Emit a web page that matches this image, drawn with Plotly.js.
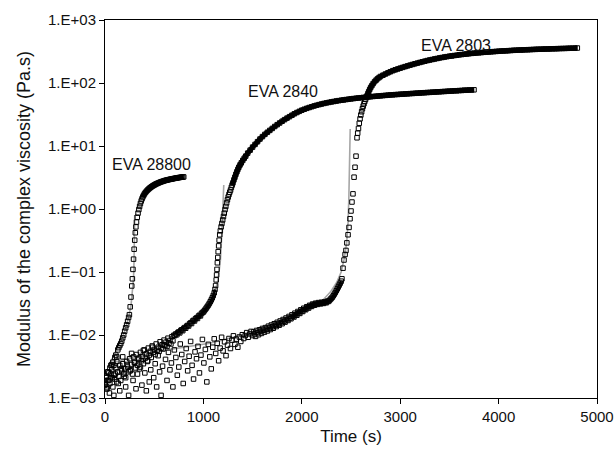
<!DOCTYPE html>
<html>
<head>
<meta charset="utf-8">
<script src="https://cdn.plot.ly/plotly-3.0.1.min.js"></script>
<style>html,body{margin:0;padding:0;background:#fff}#chart{width:616px;height:455px}</style>
</head>
<body>
<div id="chart"></div>
<script>
// ---- data: [time (s), |eta*| (Pa.s)] ----
const seriesNames = ['EVA 28800', 'EVA 2840', 'EVA 2803'];

const eva28800 = [
[0,0.0017],[10,0.0021],[20,0.0015],[30,0.0026],[40,0.0019],[50,0.0030],[60,0.0024],[70,0.0034],[80,0.0037],[90,0.0033],
[100,0.0044],[110,0.0048],[120,0.0045],[130,0.0058],[140,0.0063],[150,0.0068],[160,0.0073],[170,0.0080],[180,0.0090],[190,0.0100],
[200,0.0115],[210,0.0130],[220,0.0145],[230,0.0165],[240,0.0190],[248,0.021],[256,0.028],[264,0.040],[272,0.060],
[278,0.078],[284,0.11],[290,0.16],[296,0.23],[302,0.32],[308,0.42],[314,0.52],[320,0.62],
[328,0.74],[336,0.86],[344,0.98],[352,1.10],[360,1.22],[368,1.34],[376,1.45],[384,1.55],[392,1.64],[400,1.73],
[410,1.82],[420,1.90],[430,1.98],[440,2.05],[450,2.12],[460,2.18],[470,2.24],[480,2.30],[490,2.35],[500,2.40],
[510,2.45],[520,2.50],[530,2.54],[540,2.58],[550,2.62],[560,2.66],[570,2.70],[580,2.73],[590,2.76],[600,2.80],
[610,2.83],[620,2.86],[630,2.88],[640,2.91],[650,2.93],[660,2.96],[670,2.98],[680,3.00],[690,3.02],[700,3.05],
[710,3.07],[720,3.09],[730,3.11],[740,3.13],[750,3.15],[760,3.17],[770,3.19],[780,3.20],[790,3.21],[800,3.23]
];

const eva2840 = [
[0,0.0016],[10,0.0022],[20,0.0014],[30,0.0019],[40,0.0025],[50,0.0017],[60,0.0021],[70,0.0028],[80,0.0015],[90,0.0023],
[100,0.0020],[110,0.0030],[120,0.0018],[130,0.0026],[140,0.0022],[150,0.0033],[160,0.0019],[170,0.0027],[180,0.0035],[190,0.0024],
[200,0.0029],[210,0.0021],[220,0.0038],[230,0.0031],[240,0.0026],[250,0.0042],[260,0.0028],[270,0.0034],[280,0.0024],[290,0.0045],
[300,0.0037],[310,0.0030],[320,0.0049],[330,0.0033],[340,0.0041],[350,0.0029],[360,0.0053],[370,0.0039],[380,0.0046],[390,0.0035],
[400,0.0058],[410,0.0043],[420,0.0050],[430,0.0038],[440,0.0062],[450,0.0048],[460,0.0055],[470,0.0044],[480,0.0067],[490,0.0053],
[500,0.0059],[510,0.0049],[520,0.0072],[530,0.0057],[540,0.0064],[550,0.0055],[560,0.0078],[570,0.0062],[580,0.0070],[590,0.0060],
[600,0.0083],[610,0.0068],[620,0.0077],[630,0.0066],[640,0.0089],[650,0.0074],[660,0.0082],[670,0.0072],[680,0.0094],[690,0.0081],
[700,0.0099],[710,0.0098],[720,0.0104],[730,0.0101],[740,0.0109],[750,0.0112],[760,0.0108],[770,0.0118],[780,0.0121],[790,0.0117],
[800,0.0127],[810,0.0131],[820,0.0128],[830,0.0138],[840,0.0142],[850,0.0139],[860,0.0151],[870,0.0156],[880,0.0152],[890,0.0166],
[900,0.0171],[910,0.0167],[920,0.0181],[930,0.0187],[940,0.0183],[950,0.0199],[960,0.0206],[970,0.0201],[980,0.0219],[990,0.0227],
[1000,0.0232],[1010,0.0243],[1020,0.0256],[1030,0.0268],[1040,0.0283],[1050,0.0298],[1060,0.0316],[1070,0.0337],[1080,0.0361],[1090,0.0389],
[1100,0.0423],[1110,0.0468],[1118,0.053],[1124,0.061],[1130,0.075],[1134,0.09],[1138,0.11],[1142,0.14],[1146,0.17],[1150,0.21],
[1155,0.26],[1160,0.32],[1166,0.39],[1172,0.45],[1180,0.52],[1188,0.59],[1196,0.67],[1204,0.76],[1212,0.86],[1220,0.98],
[1228,1.10],[1236,1.25],[1244,1.40],[1252,1.55],[1260,1.70],[1268,1.85],[1276,2.00],[1284,2.20],[1292,2.40],[1300,2.60],
[1310,2.90],[1320,3.20],[1330,3.55],[1340,3.90],[1350,4.25],[1360,4.60],[1372,5.00],[1385,5.40],[1400,5.90],[1415,6.40],
[1430,6.90],[1450,7.70],[1475,8.6],[1500,9.6],[1525,10.6],[1550,11.7],[1575,12.9],[1600,14.1],[1625,15.3],[1650,16.5],
[1675,17.7],[1700,19.0],[1725,20.4],[1750,21.8],[1775,23.2],[1800,24.7],[1825,26.2],[1850,27.7],[1875,29.2],[1900,30.8],
[1925,32.5],[1950,34.0],[1975,35.5],[2000,37.0],[2025,38.3],[2050,39.6],[2075,40.8],[2100,42.0],[2125,43.2],[2150,44.3],
[2175,45.4],[2200,46.4],[2225,47.4],[2250,48.3],[2275,49.2],[2300,50.1],[2325,50.9],[2350,51.7],[2375,52.5],[2400,53.2],
[2425,53.9],[2450,54.6],[2475,55.3],[2500,56.0],[2525,56.6],[2550,57.2],[2575,57.8],[2600,58.4],[2625,59.0],[2650,59.6],
[2675,60.1],[2700,60.6],[2725,61.1],[2750,61.6],[2775,62.1],[2800,62.6],[2825,63.1],[2850,63.6],[2875,64.1],[2900,64.6],
[2925,65.0],[2950,65.4],[2975,65.8],[3000,66.2],[3025,66.6],[3050,67.0],[3075,67.4],[3100,67.8],[3125,68.2],[3150,68.6],
[3175,69.0],[3200,69.4],[3225,69.8],[3250,70.2],[3275,70.6],[3300,71.0],[3325,71.4],[3350,71.8],[3375,72.2],[3400,72.6],
[3425,73.0],[3450,73.4],[3475,73.8],[3500,74.2],[3525,74.6],[3550,75.0],[3575,75.4],[3600,75.8],[3625,76.2],[3650,76.6],
[3675,77.0],[3700,77.3],[3725,77.6],[3750,78.0]
];

const eva2803 = [
[0,0.0019],[15,0.0014],[30,0.0026],[45,0.0012],[60,0.0033],[75,0.0021],[90,0.0011],[105,0.0024],[120,0.0038],[135,0.0017],
[150,0.0013],[165,0.0029],[180,0.0045],[195,0.0022],[210,0.0015],[225,0.0034],[240,0.0011],[255,0.0027],[270,0.0051],[285,0.0019],
[300,0.0036],[315,0.0014],[330,0.0024],[345,0.0043],[360,0.0031],[375,0.0016],[390,0.0057],[405,0.0025],[420,0.0013],[435,0.0039],
[450,0.0018],[465,0.0028],[480,0.0064],[495,0.0021],[510,0.0035],[525,0.0015],[540,0.0047],[555,0.0026],[570,0.0011],[585,0.0032],
[600,0.0069],[615,0.0041],[630,0.0019],[645,0.0053],[660,0.0028],[675,0.0036],[690,0.0015],[705,0.0058],[720,0.0044],[735,0.0023],
[750,0.0031],[765,0.0072],[780,0.0049],[795,0.0017],[810,0.0038],[825,0.0061],[840,0.0027],[855,0.0046],[870,0.0079],[885,0.0033],
[900,0.0020],[915,0.0054],[930,0.0042],[945,0.0066],[960,0.0025],[975,0.0048],[990,0.0085],[1005,0.0036],[1020,0.0059],[1035,0.0018],
[1050,0.0071],[1065,0.0045],[1080,0.0029],[1095,0.0064],[1110,0.0087],[1125,0.0051],[1140,0.0074],[1155,0.0039],[1170,0.0062],[1185,0.0092],
[1200,0.0056],[1215,0.0078],[1230,0.0047],[1245,0.0069],[1260,0.0088],[1275,0.0061],[1290,0.0083],[1305,0.0097],[1320,0.0071],[1335,0.0086],
[1350,0.0064],[1365,0.0093],[1380,0.0079],[1395,0.0101],[1410,0.0088],[1425,0.0098],[1440,0.0109],[1455,0.0092],[1470,0.0104],[1485,0.0114],
[1500,0.0098],[1510,0.0112],[1520,0.0104],[1530,0.0095],[1540,0.0118],[1550,0.0109],[1560,0.0101],[1570,0.0121],[1580,0.0114],[1590,0.0106],
[1600,0.0127],[1610,0.0119],[1620,0.0111],[1630,0.0131],[1640,0.0123],[1650,0.0116],[1660,0.0138],[1670,0.0129],[1680,0.0122],[1690,0.0144],
[1700,0.0135],[1710,0.0128],[1720,0.0151],[1730,0.0142],[1740,0.0136],[1750,0.0159],[1760,0.0149],[1770,0.0143],[1780,0.0167],[1790,0.0157],
[1800,0.0151],[1810,0.0176],[1820,0.0166],[1830,0.0160],[1840,0.0186],[1850,0.0176],[1860,0.0170],[1870,0.0197],[1880,0.0186],[1890,0.0181],
[1900,0.0209],[1910,0.0198],[1920,0.0193],[1930,0.0222],[1940,0.0211],[1950,0.0206],[1960,0.0236],[1970,0.0225],[1980,0.0220],[1990,0.0251],
[2000,0.0240],[2010,0.0236],[2020,0.0266],[2030,0.0256],[2040,0.0252],[2050,0.0281],[2060,0.0272],[2070,0.0268],[2080,0.0296],[2090,0.0288],
[2100,0.0284],[2110,0.0310],[2120,0.0301],[2130,0.0297],[2140,0.0320],[2150,0.0311],[2160,0.0306],[2170,0.0327],[2180,0.0318],[2190,0.0312],
[2200,0.0331],[2210,0.0322],[2220,0.0317],[2230,0.0335],[2240,0.0328],[2250,0.0326],[2260,0.0345],[2270,0.0341],[2280,0.0352],[2290,0.0368],
[2300,0.0381],[2310,0.0398],[2320,0.0420],[2330,0.0445],[2340,0.0472],[2350,0.0505],[2360,0.0540],[2370,0.0578],[2380,0.0620],[2390,0.0665],
[2400,0.0715],[2408,0.078],[2419,0.115],[2429,0.155],[2440,0.19],[2449,0.22],[2458,0.29],[2470,0.39],[2480,0.51],[2490,0.70],
[2500,0.93],[2510,1.29],[2520,1.74],[2531,3.2],[2541,4.6],[2551,6.9],[2561,13.5],[2568,16],[2576,19],[2584,23],
[2592,27],[2600,31],[2608,35],[2616,39],[2624,43],[2632,47],[2640,51],[2648,55],[2656,59],[2664,63],
[2672,68],[2680,73],[2690,79],[2700,85],[2712,91],[2725,98],[2740,105],[2755,111],[2770,117],[2785,122],
[2800,127],[2825,133],[2850,139],[2875,145],[2900,151],[2925,157],[2950,162],[2975,167],[3000,172],[3025,177],
[3050,182],[3075,187],[3100,192],[3125,197],[3150,202],[3175,207],[3200,212],[3225,217],[3250,222],[3275,227],
[3300,232],[3325,236],[3350,241],[3375,245],[3400,250],[3425,254],[3450,258],[3475,262],[3500,266],[3525,269],
[3550,273],[3575,276],[3600,280],[3625,283],[3650,286],[3675,289],[3700,292],[3725,295],[3750,297],[3775,300],
[3800,302],[3825,304],[3850,307],[3875,309],[3900,311],[3925,313],[3950,315],[3975,317],[4000,319],[4025,321],
[4050,323],[4075,324],[4100,326],[4125,328],[4150,330],[4175,331],[4200,333],[4225,334],[4250,335],[4275,337],
[4300,338],[4325,339],[4350,341],[4375,342],[4400,343],[4425,344],[4450,345],[4475,346],[4500,347],[4525,348],
[4550,349],[4575,350],[4600,351],[4625,352],[4650,353],[4675,354],[4700,355],[4725,356],[4750,357],[4775,358],[4800,359]
];

// fitted curves (grey)
const fit28800 = [[40,0.0033],[100,0.0050],[160,0.0080],[200,0.0115],[240,0.019],[265,0.030],[280,0.048],[290,0.080],[295,0.15],[299,0.35],[302,0.80]];
const fit2840 = [[0,0.0018],[200,0.0027],[400,0.0042],[600,0.0068],[800,0.012],[1000,0.023],[1080,0.034],[1120,0.050],[1148,0.074],[1165,0.12],[1173,0.155],[1185,0.35],[1200,1.2],[1207,2.4]];
const fit2803 = [[40,0.0035],[300,0.0045],[626,0.0058],[1064,0.0074],[1471,0.0107],[1879,0.0195],[2128,0.030],[2215,0.036],[2290,0.048],[2354,0.068],[2400,0.10],[2430,0.16],[2456,0.29],[2470,0.60],[2478,1.5],[2483,6.0],[2485,17.8],[2492,18.6]];

const yTickVals = [0.001, 0.01, 0.1, 1, 10, 100, 1000];
const yTickText = ['1.E\u221203', '1.E\u221202', '1.E\u221201', '1.E+00', '1.E+01', '1.E+02', '1.E+03'];

// ---- traces ----
const xs = a => a.map(p => p[0]);
const ys = a => a.map(p => p[1]);
const seg = (a, t0, t1) => a.filter(p => p[0] >= t0 && p[0] <= t1);
const fitLine = {color: '#a6a6a6', width: 1.6};
const mk = {symbol: 'square-open', size: 4.5, color: '#000', line: {width: 1, color: '#000'}};

// dense parts of each record, where the overlapping squares merge into a solid band
const band = (a, t0, t1, w) => {
  const s = seg(a, t0, t1);
  return {x: xs(s), y: ys(s), mode: 'lines', line: {color: '#000', width: w, shape: 'spline', smoothing: 0.6}, showlegend: false, hoverinfo: 'skip'};
};

const traces = [
  {x: xs(fit28800), y: ys(fit28800), mode: 'lines', line: fitLine, showlegend: false},
  {x: xs(fit2840), y: ys(fit2840), mode: 'lines', line: fitLine, showlegend: false},
  {x: xs(fit2803), y: ys(fit2803), mode: 'lines', line: fitLine, showlegend: false},
  band(eva28800, 380, 800, 5),
  band(eva2840, 1290, 3750, 5),
  band(eva2803, 2660, 4800, 5),
  band(eva2840, 900, 1120, 2.5),
  band(eva2803, 1900, 2400, 2.5),
  {x: xs(eva28800), y: ys(eva28800), mode: 'markers', marker: mk, name: seriesNames[0]},
  {x: xs(eva2840), y: ys(eva2840), mode: 'markers', marker: mk, name: seriesNames[1]},
  {x: xs(eva2803), y: ys(eva2803), mode: 'markers', marker: mk, name: seriesNames[2]}
];

const font = {family: '"Liberation Sans", Arial, sans-serif', color: '#111'};
const layout = {
  width: 616, height: 455,
  margin: {l: 105, r: 19, t: 20, b: 57},
  paper_bgcolor: '#fff', plot_bgcolor: '#fff',
  showlegend: false,
  font: font,
  xaxis: {
    range: [0, 5000], tick0: 0, dtick: 1000,
    ticks: 'outside', ticklen: 5, tickcolor: '#000', tickwidth: 1,
    showline: true, linecolor: '#000', linewidth: 1, mirror: true,
    showgrid: false, zeroline: false,
    tickfont: {size: 15, color: '#111'},
    title: {text: 'Time (s)', font: {size: 17, color: '#111'}, standoff: 6}
  },
  yaxis: {
    type: 'log', range: [-3, 3],
    tickmode: 'array', tickvals: yTickVals, ticktext: yTickText,
    ticks: 'outside', ticklen: 5, tickcolor: '#000', tickwidth: 1,
    showline: true, linecolor: '#000', linewidth: 1, mirror: true,
    showgrid: false, zeroline: false,
    tickfont: {size: 15, color: '#111'},
    title: {text: 'Modulus of the complex viscosity (Pa.s)', font: {size: 18, color: '#111'}, standoff: 12}
  },
  annotations: [
    {x: 470, y: 0.70, xref: 'x', yref: 'y', text: seriesNames[0], showarrow: false, font: {size: 16, color: '#111'}},
    {x: 1805, y: 1.87, xref: 'x', yref: 'y', text: seriesNames[1], showarrow: false, font: {size: 16, color: '#111'}},
    {x: 3570, y: 2.60, xref: 'x', yref: 'y', text: seriesNames[2], showarrow: false, font: {size: 16, color: '#111'}}
  ]
};

Plotly.newPlot('chart', traces, layout, {displayModeBar: false, staticPlot: true});
</script>
</body>
</html>
